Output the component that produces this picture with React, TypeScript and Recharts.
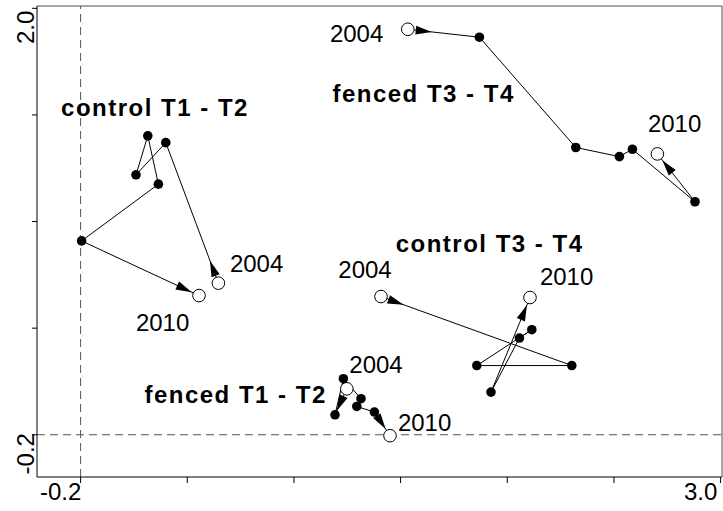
import React from 'react';
import { ComposedChart, Scatter, XAxis, YAxis, ReferenceLine } from 'recharts';

// --- Data (ordination scores, 2004 -> 2010) ---
const years = [2004, 2005, 2006, 2007, 2008, 2009, 2010];

const controlT12X = [0.489, 0.226, 0.077, 0.136, 0.189, -0.195, 0.392];
const controlT12Y = [0.582, 1.307, 1.141, 1.342, 1.093, 0.8, 0.518];

const fencedT34X = [1.436, 1.794, 2.276, 2.494, 2.559, 2.872, 2.684];
const fencedT34Y = [1.892, 1.851, 1.282, 1.235, 1.273, 1.002, 1.249];

const controlT34X = [1.302, 2.256, 1.781, 2.056, 1.994, 1.852, 2.047];
const controlT34Y = [0.513, 0.157, 0.157, 0.342, 0.299, 0.02, 0.508];

const fencedT12X = [1.131, 1.072, 1.114, 1.202, 1.181, 1.269, 1.347];
const fencedT12Y = [0.037, -0.097, 0.089, -0.014, -0.054, -0.083, -0.205];

// group titles and year annotations (data coords, baseline)
const titleText = ['control T1 - T2', 'fenced T3 - T4', 'control T3 - T4', 'fenced T1 - T2'];
const titleX = [0.172, 1.515, 1.845, 0.575];
const titleY = [1.442, 1.517, 0.745, -0.035];

const yearText = ['2004', '2010', '2004', '2010', '2004', '2010', '2004', '2010'];
const yearX = [0.68, 0.21, 1.18, 2.77, 1.222, 2.23, 1.277, 1.52];
const yearY = [0.642, 0.333, 1.828, 1.364, 0.61, 0.574, 0.12, -0.183];

const xTicks = [-0.2, 0.3333, 0.8667, 1.4, 1.9333, 2.4667, 3.0];
const yTicks = [-0.2, 0.35, 0.9, 1.45, 2.0];
const X_DOMAIN: [number, number] = [-0.418, 3.007];
const Y_DOMAIN: [number, number] = [-0.418, 2.012];

// --- helpers ---
const track = (xs: number[], ys: number[]) => xs.map((x, i) => ({ year: years[i], x, y: ys[i] }));
const texts = (t: string[], xs: number[], ys: number[]) => t.map((text, i) => ({ text, x: xs[i], y: ys[i] }));

const tracks = [
    track(controlT12X, controlT12Y),
    track(fencedT34X, fencedT34Y),
    track(controlT34X, controlT34Y),
    track(fencedT12X, fencedT12Y),
];

const FONT = '"Liberation Sans", Arial, Helvetica, sans-serif';

const PointShape = (props: any) => {
    const { cx, cy, payload } = props;
    const open = payload.year === years[0] || payload.year === years[years.length - 1];
    if (open) return <circle cx={cx} cy={cy} r={6.3} fill="#fff" stroke="#000" strokeWidth={1} />;
    return <circle cx={cx} cy={cy} r={4.8} fill="#000" />;
};

const TitleShape = (props: any) => (
    <text x={props.cx} y={props.cy} textAnchor="middle" fontSize={24} fontWeight="bold" letterSpacing={1.5} fontFamily={FONT} fill="#000">
        {props.payload.text}
    </text>
);

const YearShape = (props: any) => (
    <text x={props.cx} y={props.cy} textAnchor="middle" fontSize={24} fontFamily={FONT} fill="#000">
        {props.payload.text}
    </text>
);

const fmt = (v: number) => v.toFixed(1);

const XTick = (props: any) => {
    const { x, y, payload, index } = props;
    if (index !== 0 && index !== xTicks.length - 1) return null;
    return (
        <text x={x - 20} y={y} dy={15} textAnchor="middle" fontSize={24} fontFamily={FONT} fill="#000">
            {fmt(payload.value)}
        </text>
    );
};

const YTick = (props: any) => {
    const { y, payload, index } = props;
    if (index !== 0 && index !== yTicks.length - 1) return null;
    return (
        <text transform={`translate(34,${y + 19}) rotate(-90)`} textAnchor="middle" fontSize={24} fontFamily={FONT} fill="#000">
            {fmt(payload.value)}
        </text>
    );
};

const lineStyle = {
    stroke: '#000',
    strokeWidth: 1,
    markerStart: 'url(#arrowStart)',
    markerEnd: 'url(#arrowEnd)',
};

export default function App() {
    return (
        <div style={{ position: 'absolute', left: 0, top: 0, background: '#fff' }}>
            <svg width={0} height={0} style={{ position: 'absolute' }}>
                <defs>
                    <marker id="arrowStart" markerUnits="userSpaceOnUse" markerWidth={30} markerHeight={10} refX={0} refY={5} orient="auto">
                        <path d="M8,0.6 L24,5 L8,9.4 Z" fill="#000" />
                    </marker>
                    <marker id="arrowEnd" markerUnits="userSpaceOnUse" markerWidth={30} markerHeight={10} refX={31} refY={5} orient="auto">
                        <path d="M7,0.6 L23,5 L7,9.4 Z" fill="#000" />
                    </marker>
                </defs>
            </svg>
            <ComposedChart width={723} height={511} margin={{ top: 6, right: 1, bottom: 0, left: 0 }}>
                <XAxis
                    type="number"
                    dataKey="x"
                    domain={X_DOMAIN}
                    allowDataOverflow
                    ticks={xTicks}
                    interval={0}
                    height={34}
                    tickSize={6}
                    tickMargin={2}
                    stroke="#000"
                    tick={<XTick />}
                />
                <YAxis
                    type="number"
                    dataKey="y"
                    domain={Y_DOMAIN}
                    allowDataOverflow
                    ticks={yTicks}
                    interval={0}
                    width={37}
                    tickSize={5}
                    tickMargin={2}
                    stroke="#000"
                    tick={<YTick />}
                />
                <ReferenceLine y={Y_DOMAIN[1]} stroke="#888" strokeWidth={1.5} />
                <ReferenceLine x={X_DOMAIN[1]} stroke="#888" strokeWidth={1.5} />
                <ReferenceLine x={-0.2} stroke="#555" strokeDasharray="8 5" />
                <ReferenceLine y={-0.2} stroke="#555" strokeDasharray="8 5" />
                {tracks.map((d, i) => (
                    <Scatter
                        key={`track-${i}`}
                        data={d}
                        fill="#000"
                        line={lineStyle}
                        shape={PointShape}
                        isAnimationActive={false}
                    />
                ))}
                <Scatter data={texts(titleText, titleX, titleY)} shape={TitleShape} isAnimationActive={false} />
                <Scatter data={texts(yearText, yearX, yearY)} shape={YearShape} isAnimationActive={false} />
            </ComposedChart>
        </div>
    );
}
